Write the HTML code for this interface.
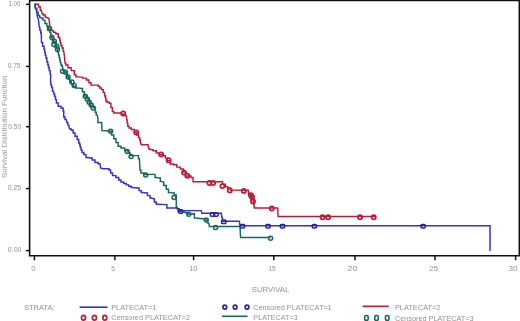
<!DOCTYPE html>
<html><head><meta charset="utf-8"><title>Kaplan-Meier survival plot</title>
<style>
html,body{margin:0;padding:0;background:#fff;width:520px;height:321px;overflow:hidden}
svg{display:block}
.t{filter:url(#tb);font-family:"Liberation Sans",sans-serif;font-size:7px;fill:#939393}
</style></head><body>
<svg width="520" height="321" viewBox="0 0 520 321">
<defs><filter id="tb" x="-20%" y="-50%" width="140%" height="200%"><feGaussianBlur stdDeviation="0.45"/></filter><filter id="lb" x="0" y="0" width="520" height="321" filterUnits="userSpaceOnUse"><feGaussianBlur stdDeviation="0.3"/></filter></defs>
<rect x="0" y="0" width="520" height="321" fill="#fff"/>
<path d="M29.6,0 V255.8 H519.35 V0.55 H29.6" fill="none" stroke="#111" stroke-width="1.6"/>
<line x1="34.4" y1="255.8" x2="34.4" y2="260.2" stroke="#111" stroke-width="1.5"/>
<line x1="114.9" y1="255.8" x2="114.9" y2="260.2" stroke="#111" stroke-width="1.5"/>
<line x1="193.6" y1="255.8" x2="193.6" y2="260.2" stroke="#111" stroke-width="1.5"/>
<line x1="273.8" y1="255.8" x2="273.8" y2="260.2" stroke="#111" stroke-width="1.5"/>
<line x1="355" y1="255.8" x2="355" y2="260.2" stroke="#111" stroke-width="1.5"/>
<line x1="435" y1="255.8" x2="435" y2="260.2" stroke="#111" stroke-width="1.5"/>
<line x1="515.6" y1="255.8" x2="515.6" y2="260.2" stroke="#111" stroke-width="1.5"/>
<line x1="26" y1="4.3" x2="29.6" y2="4.3" stroke="#111" stroke-width="1.5"/>
<line x1="26" y1="66.4" x2="29.6" y2="66.4" stroke="#111" stroke-width="1.5"/>
<line x1="26" y1="126.7" x2="29.6" y2="126.7" stroke="#111" stroke-width="1.5"/>
<line x1="26" y1="188.6" x2="29.6" y2="188.6" stroke="#111" stroke-width="1.5"/>
<line x1="26" y1="250.6" x2="29.6" y2="250.6" stroke="#111" stroke-width="1.5"/>
<text x="8.45" y="6.27" textLength="11.95" lengthAdjust="spacingAndGlyphs" class="t">1.00</text>
<text x="7.65" y="67.82" textLength="12.90" lengthAdjust="spacingAndGlyphs" class="t">0.75</text>
<text x="8.30" y="129.00" textLength="12.90" lengthAdjust="spacingAndGlyphs" class="t">0.50</text>
<text x="7.80" y="190.12" textLength="13.40" lengthAdjust="spacingAndGlyphs" class="t">0.25</text>
<text x="7.80" y="251.90" textLength="13.70" lengthAdjust="spacingAndGlyphs" class="t">0.00</text>
<text x="31.30" y="270.88" textLength="4.40" lengthAdjust="spacingAndGlyphs" class="t">0</text>
<text x="111.30" y="270.67" textLength="3.60" lengthAdjust="spacingAndGlyphs" class="t">5</text>
<text x="189.15" y="270.57" textLength="8.35" lengthAdjust="spacingAndGlyphs" class="t">10</text>
<text x="268.45" y="270.63" textLength="7.10" lengthAdjust="spacingAndGlyphs" class="t">15</text>
<text x="347.35" y="270.63" textLength="10.30" lengthAdjust="spacingAndGlyphs" class="t">20</text>
<text x="429.05" y="270.63" textLength="8.85" lengthAdjust="spacingAndGlyphs" class="t">25</text>
<text x="508.60" y="270.63" textLength="9.05" lengthAdjust="spacingAndGlyphs" class="t">30</text>
<text x="251.85" y="291.67" textLength="37.35" lengthAdjust="spacingAndGlyphs" class="t">SURVIVAL</text>
<text x="23.90" y="310.10" textLength="30.60" lengthAdjust="spacingAndGlyphs" class="t">STRATA:</text>
<text x="111.20" y="309.67" textLength="45.30" lengthAdjust="spacingAndGlyphs" class="t">PLATECAT=1</text>
<text x="253.25" y="309.78" textLength="78.40" lengthAdjust="spacingAndGlyphs" class="t">Censored PLATECAT=1</text>
<text x="394.90" y="309.78" textLength="45.60" lengthAdjust="spacingAndGlyphs" class="t">PLATECAT=2</text>
<text x="111.20" y="320.35" textLength="79.00" lengthAdjust="spacingAndGlyphs" class="t">Censored PLATECAT=2</text>
<text x="253.35" y="320.20" textLength="44.25" lengthAdjust="spacingAndGlyphs" class="t">PLATECAT=3</text>
<text x="394.90" y="320.50" textLength="78.65" lengthAdjust="spacingAndGlyphs" class="t">Censored PLATECAT=3</text>
<text x="0" y="0" transform="translate(6.83,178.00) rotate(-90)" textLength="102.40" lengthAdjust="spacingAndGlyphs" class="t">Survival Distribution Function</text>
<g filter="url(#lb)">
<polyline points="34.60,4.30 35.35,4.30 35.35,8.40 36.10,8.40 36.80,8.40 36.80,12.10 37.50,12.10 38.20,12.10 38.20,15.40 38.90,15.40 39.60,15.40 39.60,17.30 40.30,17.30 42.10,18.20 43.05,18.20 43.05,20.10 44.00,20.10 44.95,20.10 44.95,23.40 45.90,23.40 46.85,23.40 46.85,26.20 47.80,26.20 48.60,26.20 48.60,29.40 49.40,29.40 50.00,29.40 50.00,32.50 50.60,32.50 50.92,32.50 50.92,35.00 51.58,35.00 51.58,37.50 51.90,37.50 53.15,37.50 53.15,41.25 54.40,41.25 55.02,41.25 55.02,43.75 56.27,43.75 56.27,46.25 56.90,46.25 57.50,49.40 57.81,49.40 57.81,52.20 58.44,52.20 58.44,55.00 58.75,55.00 59.06,55.00 59.06,57.50 59.69,57.50 59.69,60.00 60.00,60.00 60.31,60.00 60.31,62.50 60.94,62.50 60.94,65.00 61.25,65.00 61.88,65.00 61.88,66.25 62.50,66.25 63.00,70.60 64.30,70.60 64.30,72.00 65.60,72.00 66.17,72.00 66.17,74.35 67.33,74.35 67.33,76.70 67.90,76.70 68.50,76.70 68.50,79.05 69.70,79.05 69.70,81.40 70.30,81.40 71.20,81.40 71.20,83.70 72.10,83.70 73.30,83.70 73.30,86.50 74.50,86.50 75.65,86.50 75.65,87.90 76.80,87.90 81.70,88.50 82.40,88.50 82.40,91.70 83.10,91.70 84.30,91.70 84.30,96.00 85.50,96.00 86.65,96.00 86.65,98.30 87.80,98.30 88.25,98.30 88.25,101.00 88.70,101.00 89.40,101.00 89.40,103.40 90.10,103.40 90.85,103.40 90.85,106.20 91.60,106.20 93.20,106.20 93.20,107.60 94.80,107.60 95.30,112.30 96.25,112.30 96.25,115.10 97.20,115.10 97.90,118.00 97.90,122.50 101.70,122.50 101.90,130.50 106.00,130.70 110.60,131.25 111.55,131.25 111.55,135.00 112.50,135.00 113.75,135.00 113.75,138.75 115.00,138.75 115.95,138.75 115.95,142.50 116.90,142.50 118.15,142.50 118.15,146.25 119.40,146.25 120.95,146.25 120.95,148.00 122.50,148.00 124.70,148.00 124.70,150.50 126.90,150.50 127.99,150.50 127.99,153.05 130.16,153.05 130.16,155.60 131.25,155.60 137.50,155.60 138.45,155.60 138.45,158.75 139.40,158.75 140.00,170.00 140.95,170.00 140.95,173.00 141.90,173.00 143.75,173.00 143.75,174.50 145.60,174.50 153.75,174.40 155.00,174.40 155.00,177.50 156.25,177.50 159.40,178.00 160.32,178.00 160.32,181.25 161.25,181.25 162.50,182.00 163.75,182.00 163.75,185.50 165.00,185.50 166.25,185.50 166.25,189.25 167.50,189.25 168.45,189.25 168.45,192.40 169.40,192.40 172.50,193.00 174.38,193.00 174.38,195.00 176.25,195.00 176.25,207.40 177.12,207.40 177.12,208.60 178.00,208.60 179.30,208.60 179.30,211.50 180.60,211.50 182.01,211.50 182.01,212.00 184.84,212.00 184.84,212.50 186.25,212.50 187.50,212.50 187.50,214.00 188.75,214.00 193.75,213.75 194.38,213.75 194.38,218.00 195.00,218.00 203.10,218.75 204.68,218.75 204.68,220.00 206.25,220.00 207.50,220.00 207.50,223.00 208.75,223.00 209.40,226.50 240.00,226.50 240.60,237.50 270.50,237.50" fill="none" stroke="#17685a" stroke-width="1.45" stroke-linejoin="miter"/>
<polyline points="34.60,4.30 37.90,4.20 38.60,4.20 38.60,7.00 39.30,7.00 40.25,7.00 40.25,10.30 41.20,10.30 42.10,13.60 43.05,13.60 43.05,15.00 44.00,15.00 45.20,15.00 45.20,17.30 46.40,17.30 48.70,18.20 49.20,20.10 49.60,24.30 50.10,27.10 51.05,27.10 51.05,30.00 52.00,30.00 52.50,31.00 53.62,31.00 53.62,32.38 55.88,32.38 55.88,33.75 57.00,33.75 58.20,33.75 58.20,37.50 59.40,37.50 59.70,37.50 59.70,40.25 60.30,40.25 60.30,43.00 60.60,43.00 61.08,43.00 61.08,45.50 62.02,45.50 62.02,48.00 62.50,48.00 63.12,48.00 63.12,51.25 63.75,51.25 64.40,56.25 65.00,63.00 65.75,63.00 65.75,65.00 66.50,65.00 67.90,65.00 67.90,67.80 69.30,67.80 71.20,67.80 71.20,70.60 73.10,70.60 74.25,70.60 74.25,74.80 75.40,74.80 75.90,74.80 75.90,76.70 76.40,76.70 80.60,77.10 82.70,77.10 82.70,78.10 84.80,78.10 86.40,78.10 86.40,80.00 88.00,80.00 88.95,80.00 88.95,82.80 89.90,82.80 91.05,82.80 91.05,85.10 92.20,85.10 97.40,85.10 98.08,85.10 98.08,86.25 98.75,86.25 99.67,86.25 99.67,88.00 100.60,88.00 101.55,88.00 101.55,89.60 102.50,89.60 103.25,89.60 103.25,92.50 104.00,92.50 104.65,92.50 104.65,96.00 105.30,96.00 105.53,96.00 105.53,98.50 105.97,98.50 105.97,101.00 106.20,101.00 107.10,101.00 107.10,102.30 108.00,102.30 109.15,102.30 109.15,103.20 110.30,103.20 110.90,103.20 110.90,107.50 111.50,107.50 112.35,107.50 112.35,111.50 113.20,111.50 113.80,111.50 113.80,113.00 114.40,113.00 120.00,113.00 121.56,113.00 121.56,114.30 124.69,114.30 124.69,115.60 126.25,115.60 126.90,120.00 127.20,120.00 127.20,123.12 127.80,123.12 127.80,126.25 128.10,126.25 129.05,126.25 129.05,128.00 130.00,128.00 131.25,128.00 131.25,129.40 132.50,129.40 134.38,129.40 134.38,132.50 136.25,132.50 136.88,132.50 136.88,135.00 137.50,135.00 138.45,135.00 138.45,137.50 139.40,137.50 139.70,137.50 139.70,140.00 140.30,140.00 140.30,142.50 140.60,142.50 141.25,144.80 148.00,144.80 148.60,148.60 149.80,148.60 149.80,149.60 151.00,149.60 153.00,149.60 153.00,150.80 155.00,150.80 156.25,150.80 156.25,153.00 157.50,153.00 159.38,153.00 159.38,154.60 161.25,154.60 162.82,154.60 162.82,155.60 164.40,155.60 165.40,155.60 165.40,158.10 167.40,158.10 167.40,160.60 168.40,160.60 170.25,160.60 170.25,163.90 172.10,163.90 173.55,163.90 173.55,164.80 175.00,164.80 176.85,164.80 176.85,167.10 178.70,167.10 180.35,167.10 180.35,169.00 182.00,169.00 183.50,169.00 183.50,172.00 185.00,172.00 185.50,172.00 185.50,176.00 186.00,176.00 189.40,176.00 190.95,176.00 190.95,177.50 192.50,177.50 193.05,177.50 193.05,181.80 193.60,181.80 221.00,181.80 222.45,181.80 222.45,184.25 225.35,184.25 225.35,186.70 226.80,186.70 227.65,186.70 227.65,188.00 228.50,188.00 230.50,188.00 230.50,190.10 232.50,190.10 247.60,190.30 248.40,190.30 248.40,193.40 249.20,193.40 250.10,193.40 250.10,196.00 251.00,196.00 252.00,196.00 252.00,199.00 253.00,199.00 253.22,199.00 253.22,201.65 253.68,201.65 253.68,204.30 253.90,204.30 254.30,207.90 277.70,207.90 278.10,216.45 375.00,216.45" fill="none" stroke="#b81e38" stroke-width="1.45"/>
<polyline points="34.60,4.30 35.10,4.30 35.10,7.50 35.60,7.50 36.50,10.30 37.00,14.00 37.50,17.30 38.40,19.60 38.90,23.40 39.30,27.10 39.80,27.10 39.80,30.00 40.30,30.00 40.77,30.00 40.77,33.00 41.25,33.00 41.50,42.50 42.62,42.50 42.62,46.25 43.75,46.25 44.06,46.25 44.06,49.38 44.69,49.38 44.69,52.50 45.00,52.50 45.31,52.50 45.31,55.25 45.94,55.25 45.94,58.00 46.25,58.00 46.88,58.00 46.88,62.00 47.50,62.00 47.81,62.00 47.81,64.75 48.44,64.75 48.44,67.50 48.75,67.50 49.21,67.50 49.21,70.62 50.14,70.62 50.14,73.75 50.60,73.75 50.60,82.50 50.92,82.50 50.92,85.00 51.58,85.00 51.58,87.50 51.90,87.50 52.50,87.50 52.50,91.25 53.10,91.25 53.58,91.25 53.58,93.75 54.52,93.75 54.52,96.25 55.00,96.25 55.48,96.25 55.48,99.62 56.42,99.62 56.42,103.00 56.90,103.00 58.15,103.00 58.15,106.25 59.40,106.25 60.95,106.25 60.95,108.00 62.50,108.00 63.12,108.00 63.12,111.00 63.75,111.00 63.75,117.00 65.00,117.00 65.00,119.40 66.25,119.40 66.90,122.50 67.83,122.50 67.83,125.00 68.75,125.00 69.40,128.75 70.95,128.75 70.95,130.00 72.50,130.00 73.12,130.00 73.12,133.00 73.75,133.00 75.00,133.00 75.00,136.25 76.25,136.25 77.17,136.25 77.17,139.40 78.10,139.40 78.75,139.40 78.75,143.00 79.40,143.00 79.70,143.00 79.70,145.25 80.30,145.25 80.30,147.50 80.60,147.50 81.07,147.50 81.07,150.00 82.03,150.00 82.03,152.50 82.50,152.50 83.75,152.50 83.75,154.40 85.00,154.40 85.95,154.40 85.95,157.50 86.90,157.50 90.60,158.00 92.17,158.00 92.17,160.00 93.75,160.00 95.00,160.00 95.00,162.50 96.25,162.50 98.12,162.50 98.12,163.75 100.00,163.75 100.60,168.00 103.10,168.75 108.10,168.75 109.05,168.75 109.05,170.00 110.00,170.00 110.62,170.00 110.62,173.00 111.25,173.00 112.50,173.00 112.50,175.60 113.75,175.60 115.92,175.60 115.92,177.50 118.10,177.50 118.75,177.50 118.75,180.00 119.40,180.00 120.95,180.00 120.95,181.90 122.50,181.90 123.75,181.90 123.75,183.50 125.00,183.50 126.25,183.50 126.25,184.88 128.75,184.88 128.75,186.25 130.00,186.25 131.25,186.25 131.25,187.50 132.50,187.50 138.10,188.00 139.05,188.00 139.05,190.60 140.00,190.60 141.25,190.60 141.25,192.50 142.50,192.50 146.25,193.00 147.50,193.00 147.50,195.60 148.75,195.60 150.00,195.60 150.00,198.00 151.25,198.00 153.75,198.75 154.38,198.75 154.38,202.00 155.00,202.00 156.25,202.00 156.25,204.25 157.50,204.25 166.25,204.60 166.88,204.60 166.88,208.00 167.50,208.00 176.25,208.00 178.00,208.60 178.00,210.60 201.25,210.60 201.90,213.30 221.25,213.30 221.90,217.50 222.45,217.50 222.45,221.25 223.00,221.25 239.40,221.25 240.00,225.80 490.00,225.80 490.00,251.00" fill="none" stroke="#3030cc" stroke-width="1.45"/>
<circle cx="49.40" cy="28.80" r="2.0" fill="none" stroke="#17685a" stroke-width="1.5"/>
<circle cx="51.90" cy="37.50" r="2.0" fill="none" stroke="#17685a" stroke-width="1.5"/>
<circle cx="54.40" cy="41.25" r="2.0" fill="none" stroke="#17685a" stroke-width="1.5"/>
<circle cx="53.90" cy="44.50" r="2.0" fill="none" stroke="#17685a" stroke-width="1.5"/>
<circle cx="56.90" cy="46.25" r="2.0" fill="none" stroke="#17685a" stroke-width="1.5"/>
<circle cx="57.50" cy="49.40" r="2.0" fill="none" stroke="#17685a" stroke-width="1.5"/>
<circle cx="62.50" cy="71.30" r="2.0" fill="none" stroke="#17685a" stroke-width="1.5"/>
<circle cx="65.50" cy="72.20" r="2.0" fill="none" stroke="#17685a" stroke-width="1.5"/>
<circle cx="68.10" cy="77.00" r="2.0" fill="none" stroke="#17685a" stroke-width="1.5"/>
<circle cx="71.90" cy="82.10" r="2.0" fill="none" stroke="#17685a" stroke-width="1.5"/>
<circle cx="74.20" cy="85.40" r="2.0" fill="none" stroke="#17685a" stroke-width="1.5"/>
<circle cx="85.30" cy="96.30" r="2.0" fill="none" stroke="#17685a" stroke-width="1.5"/>
<circle cx="87.40" cy="99.20" r="2.0" fill="none" stroke="#17685a" stroke-width="1.5"/>
<circle cx="89.20" cy="102.20" r="2.0" fill="none" stroke="#17685a" stroke-width="1.5"/>
<circle cx="91.20" cy="105.10" r="2.0" fill="none" stroke="#17685a" stroke-width="1.5"/>
<circle cx="93.20" cy="108.00" r="2.0" fill="none" stroke="#17685a" stroke-width="1.5"/>
<circle cx="110.60" cy="131.25" r="2.0" fill="none" stroke="#17685a" stroke-width="1.5"/>
<circle cx="127.20" cy="151.60" r="2.0" fill="none" stroke="#17685a" stroke-width="1.5"/>
<circle cx="131.10" cy="156.50" r="2.0" fill="none" stroke="#17685a" stroke-width="1.5"/>
<circle cx="145.60" cy="175.00" r="2.0" fill="none" stroke="#17685a" stroke-width="1.5"/>
<circle cx="174.00" cy="197.50" r="2.0" fill="none" stroke="#17685a" stroke-width="1.5"/>
<circle cx="188.75" cy="214.20" r="2.0" fill="none" stroke="#17685a" stroke-width="1.5"/>
<circle cx="206.25" cy="220.00" r="2.0" fill="none" stroke="#17685a" stroke-width="1.5"/>
<circle cx="215.60" cy="227.50" r="2.0" fill="none" stroke="#17685a" stroke-width="1.5"/>
<circle cx="270.60" cy="238.30" r="2.0" fill="none" stroke="#17685a" stroke-width="1.5"/>
<circle cx="123.20" cy="113.40" r="2.1" fill="none" stroke="#b81e38" stroke-width="1.75"/>
<circle cx="136.25" cy="132.50" r="2.1" fill="none" stroke="#b81e38" stroke-width="1.75"/>
<circle cx="161.25" cy="154.40" r="2.1" fill="none" stroke="#b81e38" stroke-width="1.75"/>
<circle cx="168.60" cy="160.30" r="2.1" fill="none" stroke="#b81e38" stroke-width="1.75"/>
<circle cx="184.00" cy="172.60" r="2.1" fill="none" stroke="#b81e38" stroke-width="1.75"/>
<circle cx="187.40" cy="175.80" r="2.1" fill="none" stroke="#b81e38" stroke-width="1.75"/>
<circle cx="209.40" cy="183.00" r="2.1" fill="none" stroke="#b81e38" stroke-width="1.75"/>
<circle cx="213.10" cy="183.00" r="2.1" fill="none" stroke="#b81e38" stroke-width="1.75"/>
<circle cx="222.40" cy="186.10" r="2.1" fill="none" stroke="#b81e38" stroke-width="1.75"/>
<circle cx="229.80" cy="190.40" r="2.1" fill="none" stroke="#b81e38" stroke-width="1.75"/>
<circle cx="243.80" cy="190.90" r="2.1" fill="none" stroke="#b81e38" stroke-width="1.75"/>
<circle cx="250.90" cy="195.10" r="2.1" fill="none" stroke="#b81e38" stroke-width="1.75"/>
<circle cx="252.00" cy="197.00" r="2.1" fill="none" stroke="#b81e38" stroke-width="1.75"/>
<circle cx="253.00" cy="201.40" r="2.1" fill="none" stroke="#b81e38" stroke-width="1.75"/>
<circle cx="271.75" cy="208.50" r="2.1" fill="none" stroke="#b81e38" stroke-width="1.75"/>
<circle cx="322.50" cy="217.30" r="2.1" fill="none" stroke="#b81e38" stroke-width="1.75"/>
<circle cx="328.10" cy="217.30" r="2.1" fill="none" stroke="#b81e38" stroke-width="1.75"/>
<circle cx="360.00" cy="217.30" r="2.1" fill="none" stroke="#b81e38" stroke-width="1.75"/>
<circle cx="373.75" cy="217.30" r="2.1" fill="none" stroke="#b81e38" stroke-width="1.75"/>
<rect x="178.40" y="209.70" width="4.4" height="3.6" rx="1.2" fill="none" stroke="#26269e" stroke-width="1.5"/>
<rect x="210.30" y="212.70" width="4.4" height="3.6" rx="1.2" fill="none" stroke="#26269e" stroke-width="1.5"/>
<rect x="213.80" y="212.70" width="4.4" height="3.6" rx="1.2" fill="none" stroke="#26269e" stroke-width="1.5"/>
<rect x="221.55" y="220.00" width="4.4" height="3.6" rx="1.2" fill="none" stroke="#26269e" stroke-width="1.5"/>
<rect x="240.30" y="224.40" width="4.4" height="3.6" rx="1.2" fill="none" stroke="#26269e" stroke-width="1.5"/>
<rect x="265.80" y="224.40" width="4.4" height="3.6" rx="1.2" fill="none" stroke="#26269e" stroke-width="1.5"/>
<rect x="280.30" y="224.40" width="4.4" height="3.6" rx="1.2" fill="none" stroke="#26269e" stroke-width="1.5"/>
<rect x="312.20" y="224.40" width="4.4" height="3.6" rx="1.2" fill="none" stroke="#26269e" stroke-width="1.5"/>
<rect x="420.90" y="224.40" width="4.4" height="3.6" rx="1.2" fill="none" stroke="#26269e" stroke-width="1.5"/>
</g>
<line x1="79.6" y1="307.2" x2="107.5" y2="307.2" stroke="#3030cc" stroke-width="1.6"/>
<ellipse cx="224.80" cy="307.10" rx="1.85" ry="2.1" fill="none" stroke="#26269e" stroke-width="1.75"/>
<ellipse cx="235.10" cy="307.10" rx="1.85" ry="2.1" fill="none" stroke="#26269e" stroke-width="1.75"/>
<ellipse cx="247.00" cy="307.10" rx="1.85" ry="2.1" fill="none" stroke="#26269e" stroke-width="1.75"/>
<line x1="362.5" y1="306.3" x2="388.75" y2="306.3" stroke="#b81e38" stroke-width="1.6"/>
<ellipse cx="83.50" cy="317.80" rx="2.0" ry="2.35" fill="none" stroke="#b81e38" stroke-width="1.7"/>
<ellipse cx="94.40" cy="317.80" rx="2.0" ry="2.35" fill="none" stroke="#b81e38" stroke-width="1.7"/>
<ellipse cx="104.80" cy="317.80" rx="2.0" ry="2.35" fill="none" stroke="#b81e38" stroke-width="1.7"/>
<line x1="222" y1="316.3" x2="247.5" y2="316.3" stroke="#17685a" stroke-width="1.6"/>
<rect x="364.65" y="315.45" width="3.5" height="4.9" rx="1.3" fill="none" stroke="#17685a" stroke-width="1.6"/>
<rect x="374.75" y="315.45" width="3.5" height="4.9" rx="1.3" fill="none" stroke="#17685a" stroke-width="1.6"/>
<rect x="385.45" y="315.45" width="3.5" height="4.9" rx="1.3" fill="none" stroke="#17685a" stroke-width="1.6"/>
</svg>
</body></html>
